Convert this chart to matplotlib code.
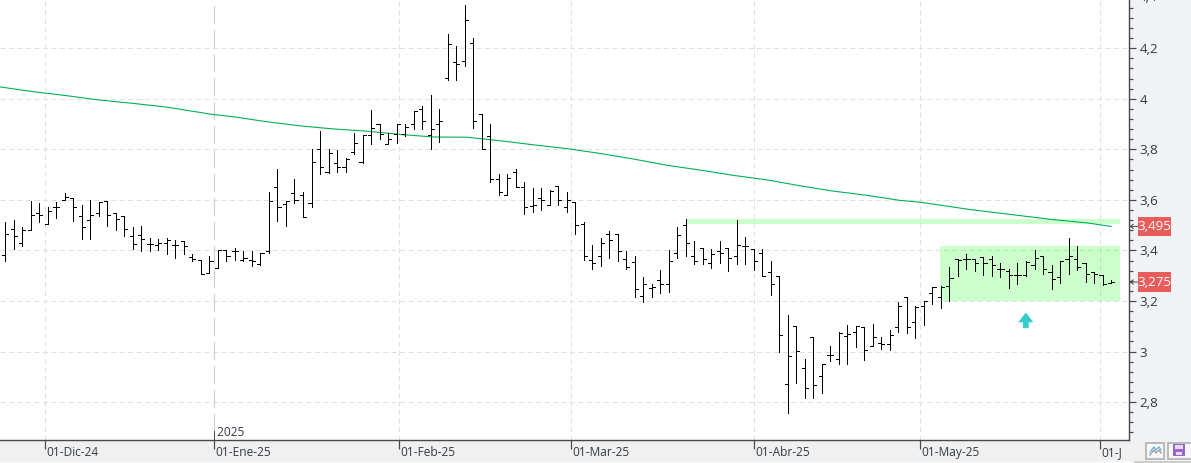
import matplotlib
matplotlib.use('Agg')
import matplotlib.pyplot as plt
from matplotlib.patches import Rectangle, Polygon
from matplotlib.transforms import IdentityTransform, ScaledTranslation

W, H = 1191, 463

opens = [3.383, 3.483, 3.428, 3.479, 3.549, 3.503, 3.570, 3.598, 3.606, 3.536,
         3.519, 3.550, 3.594, 3.550, 3.536, 3.459, 3.463, 3.426, 3.422, 3.429,
         3.420, 3.436, 3.376, 3.364, 3.312, 3.331, 3.400, 3.399, 3.364, 3.364,
         3.347, 3.396, 3.651, 3.582, 3.628, 3.620, 3.588, 3.802, 3.709, 3.746,
         3.731, 3.789, 3.749, 3.857, 3.901, 3.822, 3.860, 3.861, 3.901, 3.958,
         3.856, 3.901, 4.082, 4.147, 4.150, 4.219, 3.940, 3.853, 3.683, 3.620,
         3.712, 3.651, 3.575, 3.608, 3.580, 3.655, 3.572, 3.591, 3.504, 3.364,
         3.380, 3.467, 3.467, 3.368, 3.354, 3.219, 3.250, 3.285, 3.269, 3.388,
         3.499, 3.380, 3.408, 3.352, 3.396, 3.408, 3.380, 3.416, 3.407, 3.388,
         3.313, 3.300, 2.870, 3.103, 2.933, 3.058, 2.905, 2.988, 2.969, 3.060,
         3.079, 3.099, 3.020, 3.035, 3.029, 3.098, 3.214, 3.116, 3.180, 3.230,
         3.214, 3.259, 3.368, 3.366, 3.368, 3.374, 3.368, 3.325, 3.320, 3.301,
         3.301, 3.341, 3.380, 3.313, 3.293, 3.368, 3.368, 3.352, 3.313, 3.301, 3.273]
highs = [3.511, 3.520, 3.491, 3.595, 3.587, 3.570, 3.591, 3.626, 3.606, 3.578,
         3.599, 3.590, 3.594, 3.550, 3.536, 3.492, 3.495, 3.449, 3.446, 3.449,
         3.440, 3.436, 3.387, 3.364, 3.380, 3.400, 3.400, 3.409, 3.396, 3.396,
         3.388, 3.630, 3.724, 3.597, 3.684, 3.633, 3.802, 3.873, 3.802, 3.799,
         3.765, 3.866, 3.857, 3.954, 3.901, 3.865, 3.901, 3.902, 3.952, 3.973,
         4.016, 3.960, 4.258, 4.207, 4.373, 4.241, 3.940, 3.901, 3.704, 3.704,
         3.723, 3.669, 3.649, 3.649, 3.640, 3.655, 3.632, 3.593, 3.511, 3.421,
         3.449, 3.475, 3.467, 3.397, 3.380, 3.294, 3.269, 3.322, 3.400, 3.491,
         3.523, 3.436, 3.408, 3.404, 3.436, 3.408, 3.520, 3.455, 3.407, 3.404,
         3.360, 3.300, 3.143, 3.103, 2.969, 3.058, 2.951, 3.020, 3.078, 3.107,
         3.103, 3.099, 3.108, 3.057, 3.085, 3.198, 3.214, 3.180, 3.200, 3.254,
         3.259, 3.334, 3.368, 3.385, 3.368, 3.374, 3.380, 3.349, 3.325, 3.352,
         3.360, 3.401, 3.380, 3.341, 3.360, 3.449, 3.417, 3.352, 3.313, 3.301, 3.285]
lows = [3.359, 3.405, 3.418, 3.479, 3.513, 3.503, 3.529, 3.598, 3.517, 3.446,
        3.446, 3.537, 3.498, 3.480, 3.458, 3.405, 3.399, 3.399, 3.401, 3.387,
        3.371, 3.387, 3.359, 3.308, 3.312, 3.329, 3.359, 3.362, 3.360, 3.339,
        3.343, 3.388, 3.518, 3.498, 3.587, 3.531, 3.571, 3.702, 3.707, 3.712,
        3.712, 3.781, 3.745, 3.820, 3.840, 3.820, 3.824, 3.852, 3.880, 3.880,
        3.800, 3.828, 4.074, 4.074, 4.129, 3.884, 3.802, 3.671, 3.618, 3.620,
        3.651, 3.543, 3.552, 3.562, 3.579, 3.579, 3.552, 3.466, 3.363, 3.327,
        3.339, 3.371, 3.359, 3.327, 3.217, 3.197, 3.217, 3.232, 3.236, 3.371,
        3.379, 3.347, 3.347, 3.331, 3.351, 3.320, 3.347, 3.347, 3.323, 3.300,
        3.225, 2.999, 2.758, 2.876, 2.818, 2.817, 2.837, 2.963, 2.951, 2.951,
        3.019, 2.967, 3.020, 3.012, 3.006, 3.077, 3.074, 3.054, 3.106, 3.189,
        3.173, 3.200, 3.300, 3.326, 3.320, 3.304, 3.300, 3.293, 3.251, 3.267,
        3.300, 3.326, 3.308, 3.248, 3.273, 3.308, 3.321, 3.276, 3.272, 3.264, 3.273]
closes = [3.467, 3.459, 3.479, 3.542, 3.540, 3.558, 3.570, 3.611, 3.570, 3.491,
          3.542, 3.590, 3.540, 3.523, 3.483, 3.425, 3.444, 3.426, 3.428, 3.441,
          3.422, 3.418, 3.366, 3.308, 3.360, 3.400, 3.380, 3.399, 3.372, 3.360,
          3.388, 3.597, 3.572, 3.595, 3.599, 3.531, 3.750, 3.731, 3.786, 3.729,
          3.762, 3.826, 3.855, 3.885, 3.861, 3.841, 3.901, 3.889, 3.952, 3.913,
          3.881, 3.913, 4.215, 4.138, 4.312, 3.913, 3.802, 3.683, 3.632, 3.687,
          3.651, 3.572, 3.580, 3.600, 3.637, 3.600, 3.600, 3.500, 3.380, 3.349,
          3.428, 3.440, 3.396, 3.333, 3.246, 3.269, 3.254, 3.269, 3.360, 3.463,
          3.428, 3.360, 3.368, 3.384, 3.388, 3.372, 3.420, 3.416, 3.360, 3.300,
          3.269, 3.064, 2.984, 3.004, 2.856, 2.866, 2.951, 2.988, 3.075, 3.068,
          3.103, 3.008, 3.057, 3.028, 3.065, 3.180, 3.098, 3.177, 3.200, 3.254,
          3.254, 3.290, 3.364, 3.366, 3.349, 3.349, 3.341, 3.325, 3.301, 3.301,
          3.355, 3.372, 3.325, 3.289, 3.360, 3.380, 3.333, 3.306, 3.306, 3.268, 3.275]

# long moving average, sampled every few sessions
ma_pos = [-0.6, 3.3, 7.3, 11.1, 15, 19, 24.4, 26.8, 30.8, 34.6, 38.5, 42.5, 46.4,
          50.3, 54.3, 58.2, 62.1, 66, 69.9, 73.8, 77.8, 81.7, 85.6, 89.6, 93.4,
          97.3, 101.3, 105.2, 107.5, 113.4, 117.3, 123.2, 127.2, 130]
ma_val = [4.047, 4.028, 4.012, 3.995, 3.982, 3.967, 3.938, 3.929, 3.909, 3.893,
          3.881, 3.872, 3.859, 3.849, 3.848, 3.834, 3.818, 3.803, 3.784, 3.762,
          3.737, 3.718, 3.697, 3.679, 3.656, 3.635, 3.618, 3.598, 3.591, 3.562,
          3.546, 3.522, 3.509, 3.495]

date_pos = [4.67, 24.48, 46.29, 66.45, 88.03, 107.49, 128.7]
date_labels = ['01-Dic-24', '01-Ene-25', '01-Feb-25', '01-Mar-25', '01-Abr-25', '01-May-25', '01-J']
price_ticks = [2.8, 3, 3.2, 3.4, 3.6, 3.8, 4, 4.2]
price_labels = ['2,8', '3', '3,2', '3,4', '3,6', '3,8', '4', '4,2']
minor_ticks = [2.68, 2.72, 2.76, 2.84, 2.88, 2.92, 2.96, 3.04, 3.08, 3.12, 3.16,
               3.24, 3.28, 3.32, 3.36, 3.44, 3.48, 3.52, 3.56, 3.64, 3.68, 3.72,
               3.76, 3.84, 3.88, 3.92, 3.96, 4.04, 4.08, 4.12, 4.16, 4.24, 4.28,
               4.32, 4.36]

plt.rcParams['font.family'] = ['Open Sans', 'DejaVu Sans']
plt.rcParams['lines.scale_dashes'] = False
TEXT = '#333a44'
PX = 0.72  # one pixel in points at dpi 100


def screen_rect(x0, y0, x1, y1, **kw):
    # rectangle given in screen pixels, y going down
    fig.add_artist(Rectangle((x0, H - y1), x1 - x0, y1 - y0,
                             transform=IdentityTransform(), **kw))


fig = plt.figure(figsize=(W / 100, H / 100), dpi=100, facecolor='white')

# window furniture around the plot
screen_rect(1129, 0, W, 441, fc='#f2f3f6', ec='none', zorder=0)
screen_rect(0, 441, W, 461, fc='#f0f0f0', ec='none', zorder=0)
screen_rect(0, 461, W, H, fc='#f6f6f6', ec='none', zorder=0)
screen_rect(1134, 461, W, H, fc='#cdcdcd', ec='none', zorder=0)

ax = fig.add_axes([0, 1 - 440 / H, 1128.5 / W, 440 / H])
ax.patch.set_alpha(0)
ax.set_xlim(-0.623, 132.05)
ax.set_ylim(3.2 - (440 - 301) / 252.75, 3.2 + 301 / 252.75)

for s in ['top', 'left']:
    ax.spines[s].set_visible(False)
ax.spines['right'].set_color('#484848')
ax.spines['bottom'].set_color('#484848')
ax.spines['right'].set_linewidth(1.4 * PX)
ax.spines['bottom'].set_linewidth(1.4 * PX)

# grid
dash = (0, (5 * PX, 3.5 * PX))
for p in price_ticks:
    ax.axhline(p, color='#e0e0e0', lw=1 * PX, ls=dash, zorder=1)
for i, p in enumerate(date_pos):
    if i == 1:
        ax.plot([p, p], [ax.get_ylim()[1], ax.get_ylim()[0] + 0.036], color='#cfcfcf',
                lw=1.2 * PX, ls=(18.3 * PX, (18 * PX, 6 * PX)), zorder=1)
        ax.axvline(p, 0, 0.02, color='#484848', lw=1 * PX, zorder=3)
    else:
        ax.axvline(p, color='#e0e0e0', lw=1 * PX, ls=dash, zorder=1)

# highlighted zones
zone = (0, 1, 0, 0.2)
ax.add_patch(Rectangle((80, 3.503), 51.06, 0.022, fc=zone, ec='none', zorder=2))
ax.add_patch(Rectangle((109.9, 3.2), 21.16, 0.218, fc=zone, ec='none', zorder=2))

# moving average
ax.plot(ma_pos, ma_val, color='#00b050', lw=1.1 * PX, zorder=3)

# ohlc bars
pos = list(range(len(closes)))
tick = 0.36
ax.vlines(pos, lows, highs, color='black', lw=0.9 * PX, antialiased=False, zorder=4)
ax.hlines(opens, [p - tick for p in pos], pos, color='black', lw=0.9 * PX, antialiased=False, zorder=4)
ax.hlines(closes, pos, [p + tick for p in pos], color='black', lw=0.9 * PX, antialiased=False, zorder=4)

# arrow under the range
ax.add_patch(Polygon([(119.98, 3.1545), (120.86, 3.116), (120.31, 3.116), (120.31, 3.0925),
                      (119.65, 3.0925), (119.65, 3.116), (119.1, 3.116)],
                     closed=True, fc='#33cccc', ec='none', zorder=4))

# axes ticks and labels
ax.yaxis.tick_right()
ax.set_yticks(price_ticks)
ax.set_yticklabels(price_labels)
ax.set_yticks(minor_ticks, minor=True)
ax.tick_params(axis='y', which='major', length=6.5 * PX, width=1.2 * PX, color='#484848',
               pad=3.2, labelsize=9.6, labelcolor=TEXT)
ax.tick_params(axis='y', which='minor', length=3.5 * PX, width=1.2 * PX, color='#484848')
ax.text(1.0095, 4.4, '4,4', transform=ax.get_yaxis_transform(), fontsize=9.6, color=TEXT,
        va='center', ha='left', clip_on=False)

ax.set_xticks(date_pos)
ax.set_xticklabels(date_labels)
ax.tick_params(axis='x', length=9 * PX, width=1.2 * PX, color='#484848', pad=-2.2,
               labelsize=8.6, labelcolor=TEXT)
shift = ScaledTranslation(1.5 / 100, 0, fig.dpi_scale_trans)
for lbl in ax.get_xticklabels():
    lbl.set_ha('left')
    lbl.set_transform(lbl.get_transform() + shift)
ax.text(date_pos[1], ax.get_ylim()[0] + 0.031, ' 2025', fontsize=8.6, color=TEXT, va='center',
        ha='left', zorder=5)

# last price and average flags
yt = ax.get_yaxis_transform()
for v in [ma_val[-1], closes[-1]]:
    ax.add_patch(Rectangle((1137.7 / 1128.5, v - 0.0382), 33.3 / 1128.5, 0.0764, transform=yt,
                           fc='#e85c5c', ec='none', clip_on=False, zorder=6))
    ax.text(1154.3 / 1128.5, v, f'{v:.3f}'.replace('.', ','), transform=yt, color='white',
            fontsize=9.6, ha='center', va='center', clip_on=False, zorder=7)
    ax.annotate('', xy=(1129.5 / 1128.5, v), xytext=(1137.5 / 1128.5, v), xycoords=yt, textcoords=yt,
                arrowprops=dict(arrowstyle='->,head_length=0.22,head_width=0.16', color='#444444',
                                lw=0.7, shrinkA=0, shrinkB=0), annotation_clip=False, zorder=6)

# toolbar buttons
screen_rect(1146, 442.5, 1164, 459, fc='#f8f8f8', ec='#aaaaaa', lw=1.1, zorder=1)
fig.add_artist(plt.Line2D([1150, 1154, 1156, 1159, 1161], [H - 452, H - 447, H - 450, H - 447, H - 450],
                          transform=IdentityTransform(), color='#5ab0e0', lw=0.9, zorder=2))
fig.add_artist(plt.Line2D([1150, 1154, 1156, 1159, 1161], [H - 455, H - 450, H - 453, H - 450, H - 453],
                          transform=IdentityTransform(), color='#9a9a9a', lw=0.9, zorder=2))
screen_rect(1168, 442.5, 1192, 459, fc='#f8f8f8', ec='#aaaaaa', lw=1.1, zorder=1)
screen_rect(1173, 444, 1185, 456, fc='#9966cc', ec='none', zorder=2)
screen_rect(1175, 445, 1183, 449, fc='#e8dcf4', ec='none', zorder=3)
screen_rect(1176, 452, 1182, 455, fc='#e8dcf4', ec='none', zorder=3)

fig.savefig('out.png', dpi=100, facecolor=fig.get_facecolor())
